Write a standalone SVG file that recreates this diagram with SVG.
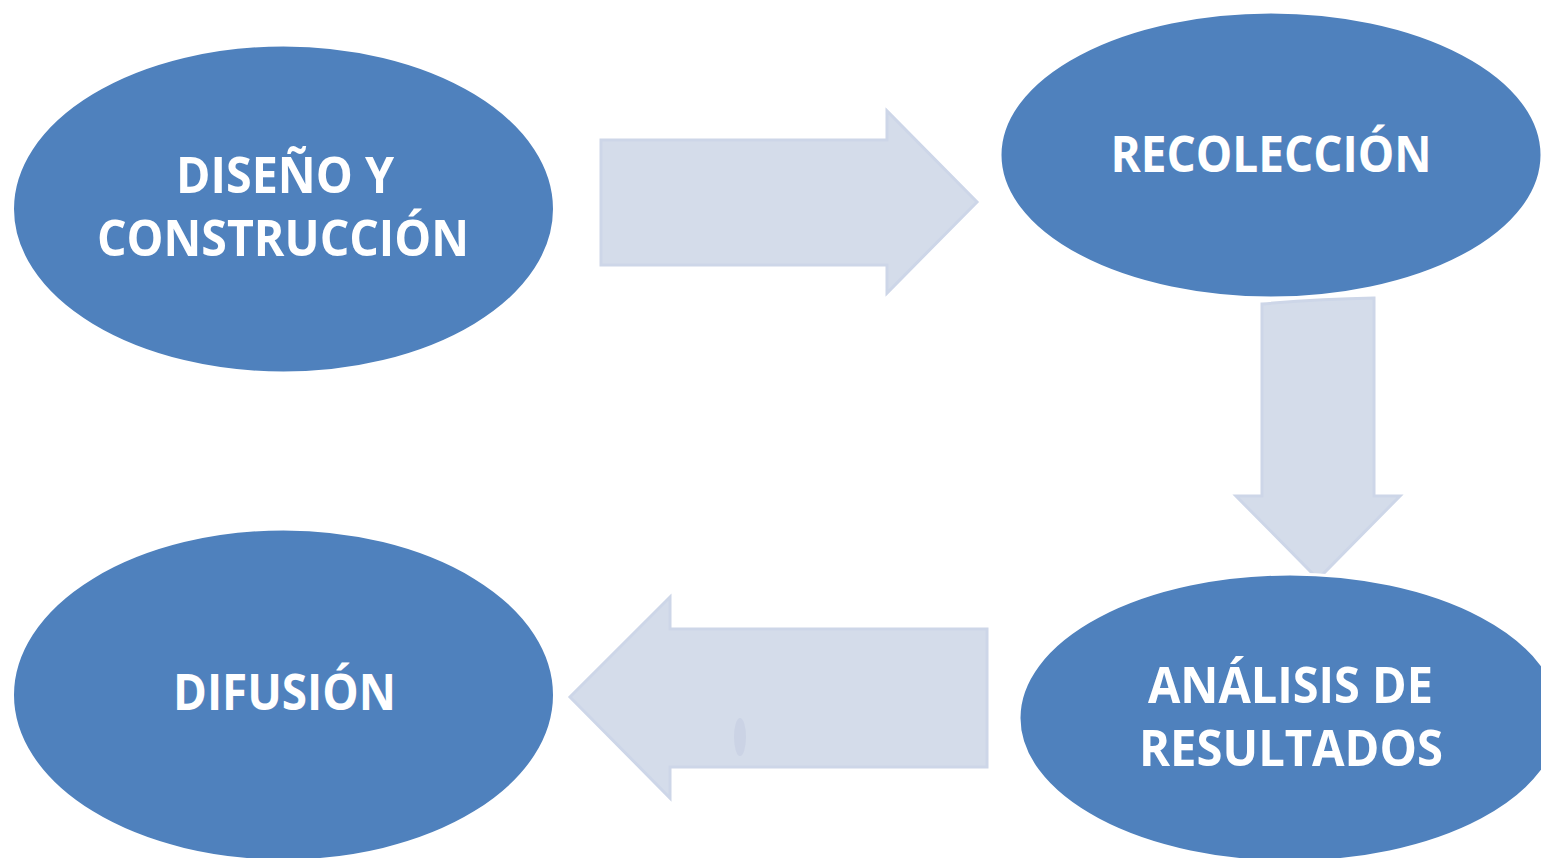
<svg xmlns="http://www.w3.org/2000/svg" width="1541" height="858" viewBox="0 0 1541 858">
<style>
.arrow{fill:#D4DCEA;stroke:#CDD6E8;stroke-width:3;stroke-linejoin:miter}
.node{fill:#4F81BD;stroke:#FFFFFF;stroke-width:3}
.lbl{font-family:"Open Sans","Noto Sans","Liberation Sans",sans-serif;font-weight:bold;font-size:50px;fill:#FFFFFF;text-anchor:middle}
</style>
<rect width="1541" height="858" fill="#FFFFFF"/>
<g id="connectors">
<polygon class="arrow" points="601,140 887,140 887,111 977,202 887,293 887,265 601,265"/>
<path class="arrow" d="M1262,304 Q1320,299 1374,298 L1374,496 L1400,496 L1318,579 L1236,496 L1262,496 Z"/>
<polygon class="arrow" points="987,629 670,629 670,597 570,697 670,798 670,767 987,767"/>
<ellipse cx="740" cy="737" rx="6" ry="19" fill="#CBD3E5"/>
</g>
<g id="node-diseno">
<ellipse class="node" cx="283.5" cy="209" rx="271" ry="164"/>
<text class="lbl" x="285" y="193" textLength="218" lengthAdjust="spacingAndGlyphs">DISEÑO Y</text>
<text class="lbl" x="283" y="256" textLength="372" lengthAdjust="spacingAndGlyphs">CONSTRUCCIÓN</text>
</g>
<g id="node-recoleccion">
<ellipse class="node" cx="1271" cy="155" rx="271" ry="143"/>
<text class="lbl" x="1271" y="172" textLength="321" lengthAdjust="spacingAndGlyphs">RECOLECCIÓN</text>
</g>
<g id="node-analisis">
<ellipse class="node" cx="1290" cy="718" rx="271" ry="144"/>
<text class="lbl" x="1290.5" y="703" textLength="285" lengthAdjust="spacingAndGlyphs">ANÁLISIS DE</text>
<text class="lbl" x="1291" y="766" textLength="304" lengthAdjust="spacingAndGlyphs">RESULTADOS</text>
</g>
<g id="node-difusion">
<ellipse class="node" cx="283.5" cy="695" rx="271" ry="166"/>
<text class="lbl" x="284.5" y="710" textLength="223" lengthAdjust="spacingAndGlyphs">DIFUSIÓN</text>
</g>
</svg>
